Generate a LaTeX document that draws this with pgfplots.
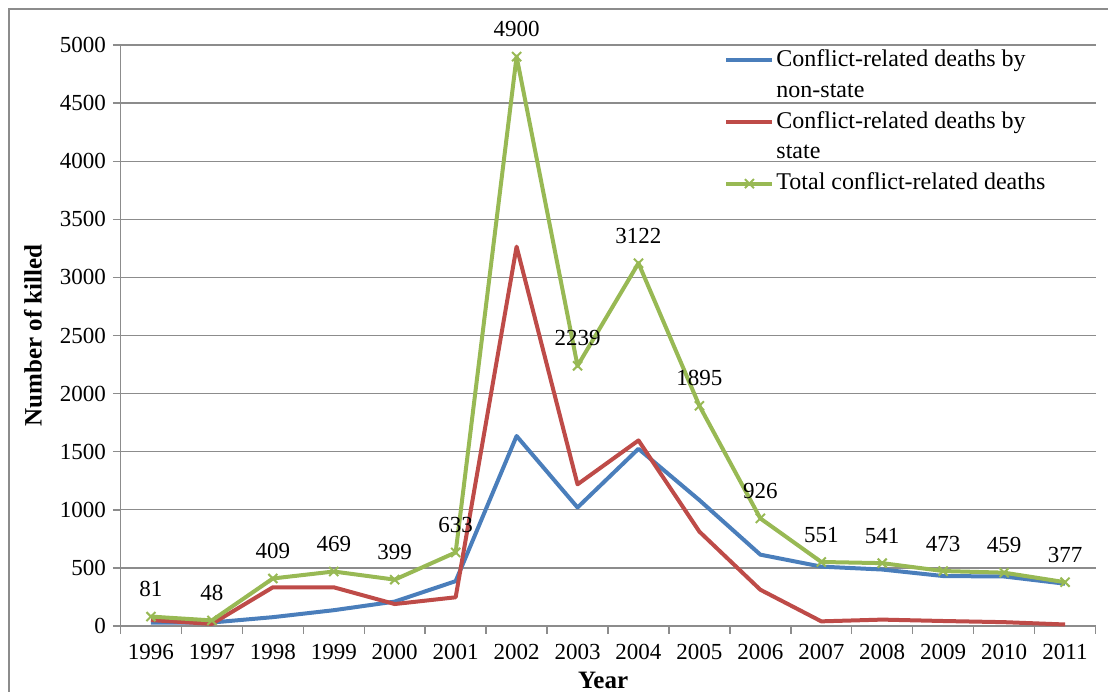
\documentclass[border=0pt]{standalone}
\usepackage{fontspec}
\setmainfont{Liberation Serif}
\usepackage{pgfplots}
\pgfplotsset{compat=1.18}
\definecolor{cblue}{HTML}{4A7EBB}
\definecolor{cred}{HTML}{BE4B48}
\definecolor{cgreen}{HTML}{98B954}
\definecolor{gridgray}{HTML}{8C8C8C}
\begin{document}
\begin{tikzpicture}
\useasboundingbox (0,0) rectangle (554pt,345.5pt);
\draw[gridgray, line width=0.8pt] (4.5pt,-10pt) -- (4.5pt,341pt) -- (570pt,341pt);
\begin{axis}[
  at={(60.25pt,32.5pt)}, anchor=south west,
  scale only axis, width=487.5pt, height=290.5pt,
  xmin=-0.5, xmax=15.5, ymin=0, ymax=5000,
  axis lines*=left,
  axis line style={gridgray, line width=0.7pt},
  xtick={-0.5,0.5,...,15.5},
  x tick label as interval,
  xticklabels={1996,1997,1998,1999,2000,2001,2002,2003,2004,2005,2006,2007,2008,2009,2010,2011},
  ytick={0,500,...,5000},
  ymajorgrids,
  grid style={gridgray, line width=0.65pt},
  tick style={gridgray, line width=0.7pt},
  major tick length=3.75pt,
  tick align=outside,
  /pgf/number format/assume math mode=true,
  /pgf/number format/1000 sep={},
  tick label style={font=\fontsize{11.5}{13}\selectfont, text=black},
  xticklabel style={yshift=-2pt},
  xlabel={\textbf{Year}},
  ylabel={\textbf{Number of killed}},
  every axis x label/.style={at={(axis description cs:0.495,-0.093)}, anchor=center, font=\fontsize{12.5}{14}\selectfont},
  every axis y label/.style={at={(axis description cs:-0.0897,0.5)}, rotate=90, anchor=center, font=\fontsize{12.5}{14}\selectfont},
  legend style={at={(axis description cs:0.619,0.9948)}, anchor=north west, draw=none, fill=none, inner sep=0pt,
    font=\fontsize{12}{14.5}\selectfont, row sep=3.4pt,
    nodes={inner sep=0pt, text height=9pt, text depth=3pt},
    /tikz/every odd column/.append style={column sep=1pt}},
  legend cell align=left,
  legend image code/.code={\draw[mark repeat=2,mark phase=2,#1] plot coordinates {(0pt,0pt) (11.5pt,0pt) (23pt,0pt)};},
]
\addplot[cblue, line width=2pt, line join=round] coordinates {
(0,30) (1,30) (2,76) (3,136) (4,210) (5,386) (6,1635) (7,1020) (8,1525) (9,1083) (10,614) (11,511) (12,486) (13,430) (14,426) (15,364)};
\addlegendentry{Conflict-related deaths by}
\addlegendimage{empty legend}
\addlegendentry{non-state}
\addplot[cred, line width=2pt, line join=round] coordinates {
(0,51) (1,18) (2,333) (3,333) (4,189) (5,247) (6,3265) (7,1219) (8,1597) (9,812) (10,312) (11,40) (12,55) (13,43) (14,33) (15,13)};
\addlegendentry{Conflict-related deaths by}
\addlegendimage{empty legend}
\addlegendentry{state}
\addplot[cgreen, line width=2pt, line join=round, mark=x, mark size=3.2pt, mark options={line width=1pt},
  nodes near coords,
  every node near coord/.append style={text=black, font=\fontsize{11.5}{13}\selectfont, yshift=6pt, text height=, text depth=}] coordinates {
(0,81) (1,48) (2,409) (3,469) (4,399) (5,633) (6,4900) (7,2239) (8,3122) (9,1895) (10,926) (11,551) (12,541) (13,473) (14,459) (15,377)};
\addlegendentry{Total conflict-related deaths}
\end{axis}
\end{tikzpicture}
\end{document}
